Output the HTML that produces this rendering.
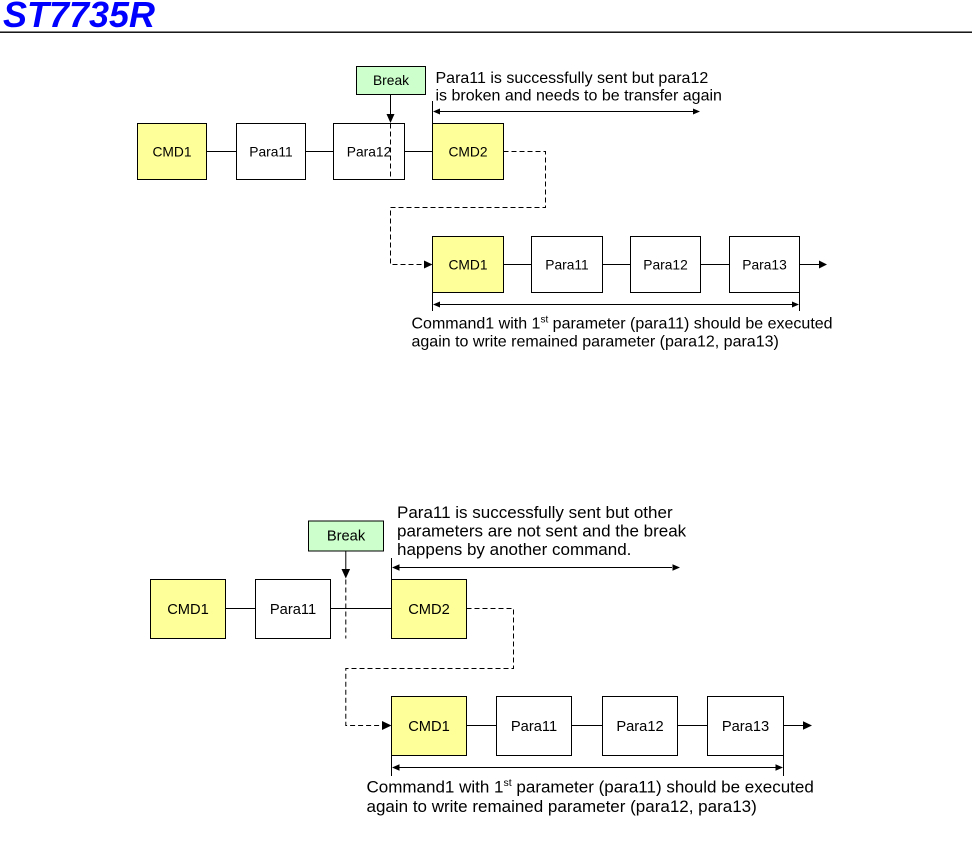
<!DOCTYPE html>
<html>
<head>
<meta charset="utf-8">
<style>
  html, body { margin: 0; padding: 0; background: #ffffff; }
  body { width: 974px; height: 846px; overflow: hidden; }
  svg { display: block; }
  text { font-family: "Liberation Sans", Arial, sans-serif; fill: #000; }
</style>
</head>
<body>
<svg width="974" height="846" viewBox="0 0 974 846" xmlns="http://www.w3.org/2000/svg">
  <rect x="0" y="0" width="974" height="846" fill="#ffffff"/>

  <!-- Header -->
  <text x="3" y="27" font-size="36" font-weight="bold" font-style="italic" style="fill:#0000ff" textLength="152" lengthAdjust="spacingAndGlyphs">ST7735R</text>
  <rect x="0" y="31.5" width="972" height="1.4" fill="#000"/>

  <!-- ============ TOP DIAGRAM ============ -->
  <g stroke="#000" stroke-width="1" fill="none">
    <rect x="356.5" y="66.5" width="69" height="28" fill="#ccffcc"/>
    <rect x="137.5" y="123.5" width="69" height="56" fill="#ffff99"/>
    <rect x="236.5" y="123.5" width="69" height="56" fill="#ffffff"/>
    <rect x="333.5" y="123.5" width="71" height="56" fill="#ffffff"/>
    <rect x="432.5" y="123.5" width="71" height="56" fill="#ffff99"/>
    <line x1="206.5" y1="151.5" x2="236.5" y2="151.5"/>
    <line x1="305.5" y1="151.5" x2="333.5" y2="151.5"/>
    <line x1="404.5" y1="151.5" x2="432.5" y2="151.5"/>
    <line x1="390.5" y1="94.5" x2="390.5" y2="115"/>
    <line x1="390.5" y1="123.5" x2="390.5" y2="179.5" stroke-dasharray="5,3"/>
    <path d="M503.5 151.5 H545.5 V207.5 H390.5 V264.5 H424" stroke-dasharray="5,3"/>
    <line x1="432.5" y1="101" x2="432.5" y2="123.5"/>
    <line x1="438" y1="111.5" x2="695" y2="111.5"/>

    <rect x="432.5" y="236.5" width="71" height="56" fill="#ffff99"/>
    <rect x="531.5" y="236.5" width="71" height="56" fill="#ffffff"/>
    <rect x="630.5" y="236.5" width="70" height="56" fill="#ffffff"/>
    <rect x="729.5" y="236.5" width="70" height="56" fill="#ffffff"/>
    <line x1="503.5" y1="264.5" x2="531.5" y2="264.5"/>
    <line x1="602.5" y1="264.5" x2="630.5" y2="264.5"/>
    <line x1="700.5" y1="264.5" x2="729.5" y2="264.5"/>
    <line x1="799.5" y1="264.5" x2="820" y2="264.5"/>
    <line x1="432.5" y1="292.5" x2="432.5" y2="311"/>
    <line x1="799.5" y1="292.5" x2="799.5" y2="311"/>
    <line x1="438" y1="304.5" x2="794" y2="304.5"/>
  </g>
  <g fill="#000" stroke="none">
    <polygon points="386.5,114 394.5,114 390.5,123"/>
    <polygon points="424,260.5 424,268.5 432.5,264.5"/>
    <polygon points="433,111.5 440,108.5 440,114.5"/>
    <polygon points="700,111.5 693,108.5 693,114.5"/>
    <polygon points="819,260.5 819,268.5 827,264.5"/>
    <polygon points="433,304.5 440,301.5 440,307.5"/>
    <polygon points="799,304.5 792,301.5 792,307.5"/>
  </g>
  <g font-size="13.8" text-anchor="middle">
    <text x="391" y="85">Break</text>
    <text x="172" y="156.5">CMD1</text>
    <text x="271" y="156.5">Para11</text>
    <text x="369" y="156.5">Para12</text>
    <text x="468" y="156.5">CMD2</text>
    <text x="468" y="269.5">CMD1</text>
    <text x="567" y="269.5">Para11</text>
    <text x="665.5" y="269.5">Para12</text>
    <text x="764.5" y="269.5">Para13</text>
  </g>
  <g font-size="16">
    <text x="435.5" y="83">Para11 is successfully sent but para12</text>
    <text x="435.5" y="100.5">is broken and needs to be transfer again</text>
    <text x="411.5" y="328.5">Command1 with 1<tspan font-size="10" dy="-6">st</tspan><tspan dy="6"> parameter (para11) should be executed</tspan></text>
    <text x="411.5" y="346.5">again to write remained parameter (para12, para13)</text>
  </g>

  <!-- ============ BOTTOM DIAGRAM ============ -->
  <g stroke="#000" stroke-width="1" fill="none">
    <rect x="308.5" y="521" width="75" height="30" fill="#ccffcc"/>
    <rect x="150.5" y="579.5" width="75" height="59" fill="#ffff99"/>
    <rect x="255.5" y="579.5" width="75" height="59" fill="#ffffff"/>
    <rect x="391.5" y="579.5" width="75" height="59" fill="#ffff99"/>
    <line x1="225.5" y1="608.5" x2="255.5" y2="608.5"/>
    <line x1="330.5" y1="608.5" x2="391.5" y2="608.5"/>
    <line x1="345.8" y1="551" x2="345.8" y2="570"/>
    <line x1="345.8" y1="579.5" x2="345.8" y2="638.5" stroke-dasharray="5,3"/>
    <path d="M466.5 608.5 H513.5 V668.5 H345.8 V725.5 H383" stroke-dasharray="5,3"/>
    <line x1="391.5" y1="558" x2="391.5" y2="579.5"/>
    <line x1="398" y1="567.5" x2="672" y2="567.5"/>

    <rect x="391.5" y="696.5" width="75" height="59" fill="#ffff99"/>
    <rect x="496.5" y="696.5" width="75" height="59" fill="#ffffff"/>
    <rect x="602.5" y="696.5" width="75" height="59" fill="#ffffff"/>
    <rect x="707.5" y="696.5" width="76" height="59" fill="#ffffff"/>
    <line x1="466.5" y1="725.5" x2="496.5" y2="725.5"/>
    <line x1="571.5" y1="725.5" x2="602.5" y2="725.5"/>
    <line x1="677.5" y1="725.5" x2="707.5" y2="725.5"/>
    <line x1="783.5" y1="725.5" x2="804" y2="725.5"/>
    <line x1="391.5" y1="755.5" x2="391.5" y2="776"/>
    <line x1="783.5" y1="755.5" x2="783.5" y2="776"/>
    <line x1="398" y1="767.5" x2="777" y2="767.5"/>
  </g>
  <g fill="#000" stroke="none">
    <polygon points="341.5,569 350.1,569 345.8,578.5"/>
    <polygon points="382,721 382,730 391.5,725.5"/>
    <polygon points="392,567.5 399.5,564.3 399.5,570.7"/>
    <polygon points="680,567.5 672.5,564.3 672.5,570.7"/>
    <polygon points="803,721.3 803,729.7 812,725.5"/>
    <polygon points="392,767.5 399.5,764.3 399.5,770.7"/>
    <polygon points="783,767.5 775.5,764.3 775.5,770.7"/>
  </g>
  <g font-size="14.7" text-anchor="middle">
    <text x="346" y="540.5">Break</text>
    <text x="188" y="614">CMD1</text>
    <text x="293" y="614">Para11</text>
    <text x="429" y="614">CMD2</text>
    <text x="429" y="731">CMD1</text>
    <text x="534" y="731">Para11</text>
    <text x="640" y="731">Para12</text>
    <text x="745.5" y="731">Para13</text>
  </g>
  <g font-size="17">
    <text x="397" y="518">Para11 is successfully sent but other</text>
    <text x="397" y="536.5">parameters are not sent and the break</text>
    <text x="397" y="555">happens by another command.</text>
    <text x="366.5" y="792.5">Command1 with 1<tspan font-size="10.5" dy="-6.5">st</tspan><tspan dy="6.5"> parameter (para11) should be executed</tspan></text>
    <text x="366.5" y="812">again to write remained parameter (para12, para13)</text>
  </g>
</svg>
</body>
</html>
